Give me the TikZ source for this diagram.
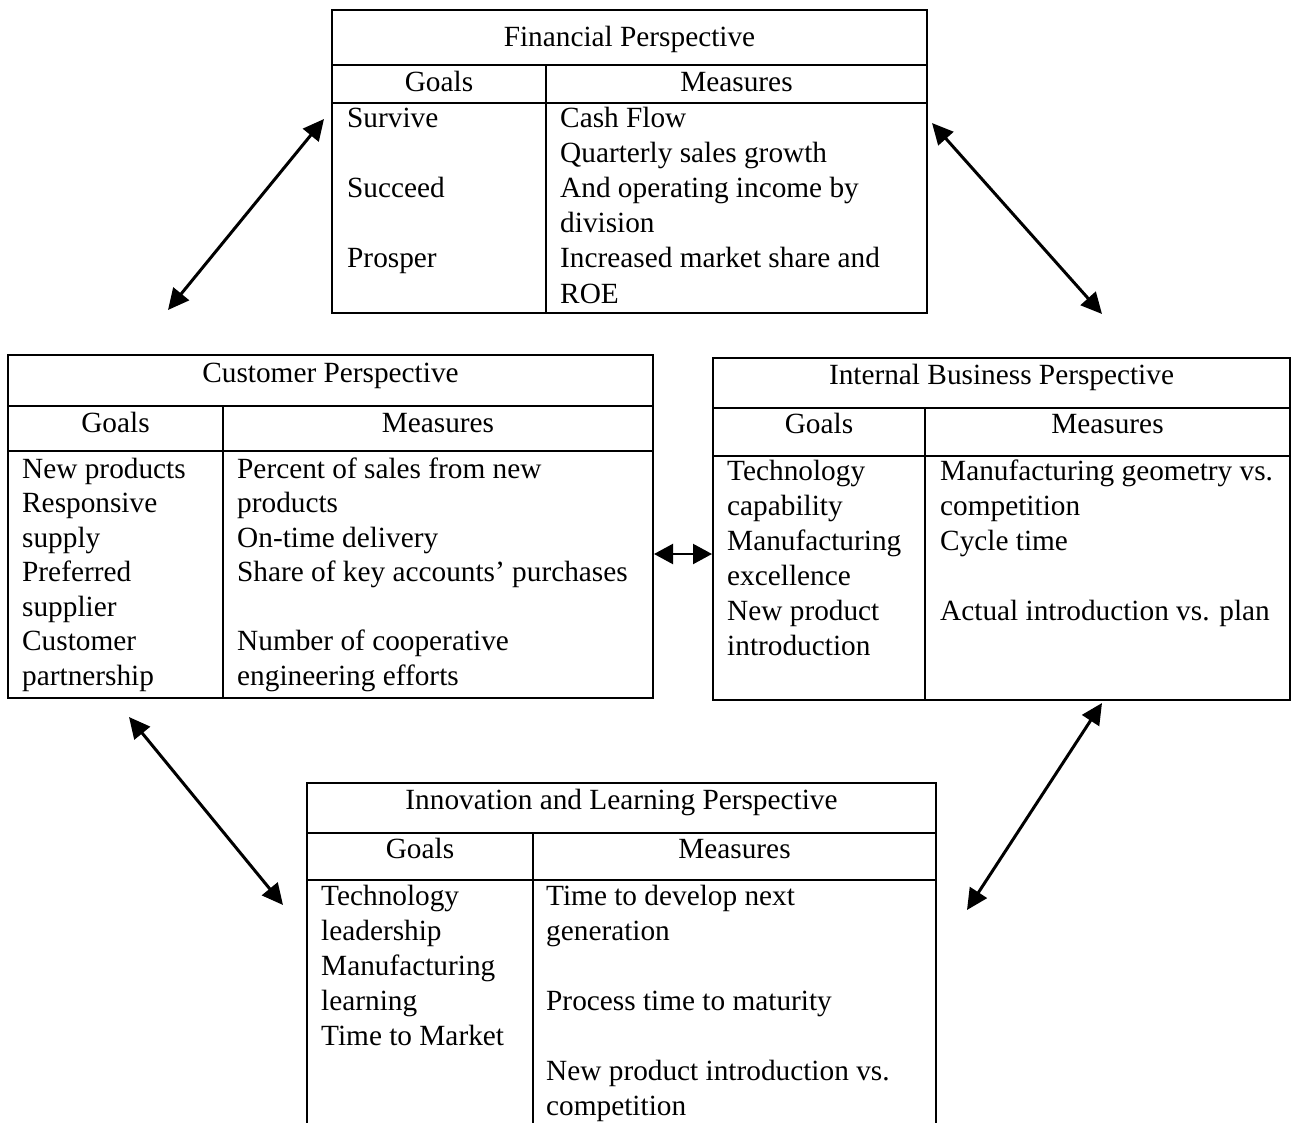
\documentclass[tikz,border=0pt]{standalone}
\usepackage{fontspec}
\setmainfont{Liberation Serif}
\usetikzlibrary{arrows.meta}
\begin{document}
\begin{tikzpicture}[x=1pt,y=-1pt,
  frame/.style={draw, line width=2.2pt, rectangle, outer sep=0pt, inner sep=0pt, anchor=north west},
  rule/.style={line width=2.2pt},
  txt/.style={anchor=base west, inner sep=0pt, font=\fontsize{29.3}{35}\selectfont},
  ctr/.style={anchor=base, inner sep=0pt, font=\fontsize{29.3}{35}\selectfont},
  link/.style={line width=3pt, {Triangle[length=21pt,width=20pt]}-{Triangle[length=21pt,width=20pt]}},
  shortlink/.style={line width=2.2pt, {Triangle[length=19pt,width=20pt]}-{Triangle[length=19pt,width=20pt]}}
]
\useasboundingbox (0,0) rectangle (1292,1123);

% ---------- Financial Perspective ----------
\node[frame, minimum width=595pt, minimum height=303pt] (fin) at (332,10) {};
\draw[rule] (332,65) -- (927,65);
\draw[rule] (332,103) -- (927,103);
\draw[rule] (546,65) -- (546,313);
\node[ctr] (fin-title) at (629.5,47) {Financial Perspective};
\node[ctr] (fin-goals) at (439,92) {Goals};
\node[ctr] (fin-meas) at (736.5,92) {Measures};
\foreach \n/\t in {0/Survive,2/Succeed,4/Prosper}
  \node[txt] (fin-g\n) at (347,{128+35*\n}) {\t};
\foreach \n/\t in {0/Cash Flow,1/Quarterly sales growth,2/And operating income by,3/division,4/Increased market share and,5/ROE}
  \node[txt] (fin-m\n) at (560,{128+35*\n}) {\t};

% ---------- Customer Perspective ----------
\node[frame, minimum width=645pt, minimum height=343pt] (cus) at (8,355) {};
\draw[rule] (8,406) -- (653,406);
\draw[rule] (8,451) -- (653,451);
\draw[rule] (223,406) -- (223,698);
\node[ctr] (cus-title) at (330.5,382) {Customer Perspective};
\node[ctr] (cus-goals) at (115.5,432) {Goals};
\node[ctr] (cus-meas) at (438,432) {Measures};
\foreach \n/\t in {0/New products,1/Responsive,2/supply,3/Preferred,4/supplier,5/Customer,6/partnership}
  \node[txt] (cus-g\n) at (22,{478+34.5*\n}) {\t};
\foreach \n/\t in {0/Percent of sales from new,1/products,2/On-time delivery,3/Share of key accounts' purchases,5/Number of cooperative,6/engineering efforts}
  \node[txt] (cus-m\n) at (237,{478+34.5*\n}) {\t};

% ---------- Internal Business Perspective ----------
\node[frame, minimum width=577pt, minimum height=342pt] (int) at (713,358) {};
\draw[rule] (713,408) -- (1290,408);
\draw[rule] (713,456) -- (1290,456);
\draw[rule] (925,408) -- (925,700);
\node[ctr] (int-title) at (1001.5,384) {Internal Business Perspective};
\node[ctr] (int-goals) at (819,433) {Goals};
\node[ctr] (int-meas) at (1107.5,433) {Measures};
\foreach \n/\t in {0/Technology,1/capability,2/Manufacturing,3/excellence,4/New product,5/introduction}
  \node[txt] (int-g\n) at (727,{480+35*\n}) {\t};
\foreach \n/\t in {0/Manufacturing geometry vs.,1/competition,2/Cycle time,4/Actual introduction vs. plan}
  \node[txt] (int-m\n) at (940,{480+35*\n}) {\t};

% ---------- Innovation and Learning Perspective (runs off the page) ----------
\node[rectangle, outer sep=0pt, inner sep=0pt, anchor=north west,
      minimum width=629pt, minimum height=345pt] (inn) at (307,783) {};
\draw[rule] (inn.south west) -- (inn.north west) -- (inn.north east) -- (inn.south east);
\draw[rule] (307,833) -- (936,833);
\draw[rule] (307,880) -- (936,880);
\draw[rule] (533,833) -- (533,1128);
\node[ctr] (inn-title) at (621.5,809) {Innovation and Learning Perspective};
\node[ctr] (inn-goals) at (420,858) {Goals};
\node[ctr] (inn-meas) at (734.5,858) {Measures};
\foreach \n/\t in {0/Technology,1/leadership,2/Manufacturing,3/learning,4/Time to Market}
  \node[txt] (inn-g\n) at (321,{905+35*\n}) {\t};
\foreach \n/\t in {0/Time to develop next,1/generation,3/Process time to maturity,5/New product introduction vs.,6/competition}
  \node[txt] (inn-m\n) at (546,{905+35*\n}) {\t};

% ---------- two-way links between the perspectives ----------
\coordinate (finL) at (324,119);
\coordinate (cusT) at (168,310);
\coordinate (finR) at (932,123);
\coordinate (intT) at (1102,314);
\coordinate (cusR) at (654,554);
\coordinate (intL) at (712,554);
\coordinate (cusB) at (129,717);
\coordinate (innL) at (283,905);
\coordinate (intB) at (1102,703);
\coordinate (innR) at (967,910);

\draw[link] (finL) -- (cusT);
\draw[link] (finR) -- (intT);
\draw[shortlink] (cusR) -- (intL);
\draw[link] (cusB) -- (innL);
\draw[link] (intB) -- (innR);
\end{tikzpicture}
\end{document}
